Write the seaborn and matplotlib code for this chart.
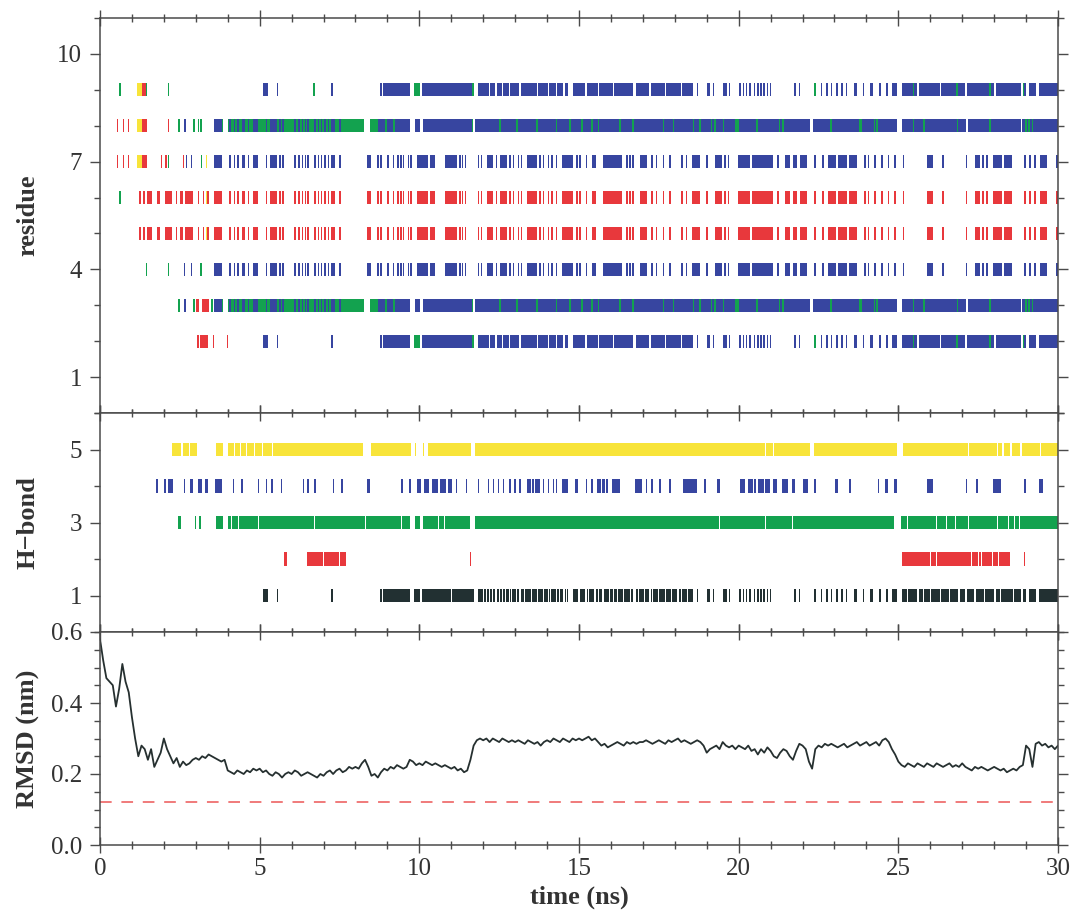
import numpy as np
import matplotlib
matplotlib.use("Agg")
import matplotlib.pyplot as plt
from matplotlib.ticker import MultipleLocator, FixedLocator
import seaborn as sns

# ---------------- colours ----------------
BLUE = "#3745a0"
GREEN = "#13a24f"
RED = "#e8383c"
YELLOW = "#f8e43a"
BLACK = "#223032"

# ---------------- residue panel data (times in ns) ----------------
# pattern A: rows 2 and 9 (and H-bond 1)
pattern_A_blocks = [(5.12, 5.27), (7.24, 7.31), (8.87, 9.71), (10.07, 11.64), (11.85, 12.17),
                    (12.21, 12.38), (12.42, 12.59), (12.63, 12.80), (12.84, 13.13), (13.17, 13.68),
                    (13.72, 14.02), (14.06, 14.28), (14.32, 14.51), (14.55, 14.67), (14.82, 15.20),
                    (15.24, 15.60), (15.64, 16.05), (16.09, 16.70), (16.78, 17.20), (17.24, 17.70),
                    (17.74, 18.20), (18.24, 18.58), (19.00, 19.10), (19.52, 19.63), (23.62, 23.70),
                    (24.12, 24.22), (24.79, 24.95), (25.10, 25.60), (25.65, 26.30), (26.35, 27.10),
                    (27.15, 28.00), (28.05, 28.85), (28.92, 29.00), (29.10, 29.30), (29.40, 30.00)]
pattern_A_stripes = [5.56, 8.80, 18.71, 19.21, 19.71, 20.05, 20.15, 20.25, 20.35, 20.50, 20.60,
                     20.70, 20.80, 20.90, 21.00, 21.77, 21.90, 22.60, 22.76, 22.91, 23.07, 23.23,
                     23.38, 23.91, 24.43, 24.64]
pattern_A_green = [(9.84, 10.02), (11.64, 11.70), (22.37, 22.42), (25.45, 25.50), (26.80, 26.88),
                   (27.85, 27.90), (28.90, 28.95)]

# pattern C: rows 4, 7 (blue) and 5, 6 (red)
pattern_C_blocks = [(3.58, 3.81), (4.44, 4.54), (4.80, 4.96), (5.32, 5.53), (7.23, 7.36), (8.35, 8.49),
                    (9.92, 10.28), (10.34, 10.49), (10.80, 11.17), (12.11, 12.32), (12.53, 12.74),
                    (13.36, 13.68), (14.46, 14.82), (15.40, 15.53), (15.76, 16.34), (16.91, 17.12),
                    (18.53, 18.79), (19.26, 19.47), (19.99, 20.35), (20.42, 21.09), (21.45, 21.61),
                    (21.71, 21.82), (21.92, 22.13), (22.81, 23.05), (23.12, 23.40), (23.46, 23.70),
                    (25.89, 26.08), (27.40, 27.56), (27.98, 28.25), (28.32, 28.55), (29.44, 29.65)]
pattern_C_stripes = [4.07, 4.21, 4.33, 4.65, 5.22, 5.64, 5.74, 6.11, 6.23, 6.34, 6.44, 6.52, 6.73,
                     6.84, 6.94, 7.05, 7.15, 7.52, 8.70, 8.80, 9.01, 9.19, 9.34, 9.43, 9.50, 9.66,
                     9.74, 11.27, 11.35, 11.45, 11.85, 11.95, 12.42, 12.84, 12.95, 13.10, 13.20,
                     13.78, 13.89, 14.04, 14.15, 14.30, 14.93, 15.03, 15.24, 16.50, 16.60, 16.70,
                     17.28, 17.43, 17.64, 17.85, 18.22, 18.37, 19.00, 19.58, 19.68, 21.24, 22.39,
                     22.65, 23.96, 24.06, 24.27, 24.48, 24.69, 24.90, 25.16, 26.39, 27.14, 27.66,
                     27.77, 28.97, 29.13, 29.28, 29.96]
pattern_C_early_red_blocks = [(1.46, 1.62), (1.77, 1.88), (2.04, 2.27), (2.51, 2.61), (2.66, 2.92)]
pattern_C_early_red_stripes = [1.25, 1.38, 2.40, 3.08, 3.24, 3.39]

# pattern B: rows 3 and 8
pattern_B_green_blocks = [(3.62, 3.86), (4.00, 8.28), (8.45, 8.70)]
pattern_B_blue_blocks = [(8.70, 9.71), (9.86, 10.02), (10.13, 11.64), (11.74, 22.24), (22.34, 24.95),
                         (25.10, 27.12), (27.17, 28.83), (28.88, 30.00)]
pattern_B_green_stripes = [8.95, 9.20, 11.67, 12.53, 13.05, 13.68, 14.30, 14.72, 15.09, 15.40, 15.61,
                           16.29, 16.70, 17.64, 17.96, 18.58, 18.79, 19.15, 19.25, 19.52, 19.92,
                           19.97, 20.57, 21.28, 21.38, 22.90, 23.78, 23.83, 24.25, 24.33, 25.47,
                           25.80, 26.85, 27.87, 29.00, 29.10, 29.20]

# early, row-specific events
row9_green = [0.63, 1.46, 2.14, 6.70]
row8_red = [0.55, 0.73, 0.89, 2.14]
row8_green = [2.48, 2.95, 3.08, 3.16]
row8_blue = [2.66]
row7_red = [0.55, 0.73, 0.89, 1.93, 2.06, 2.62]
row7_green = [2.14, 3.18]
row7_blue = [2.71, 2.87]
row6_green = [0.63]
row4_green = [1.46, 2.14, 3.16]
row4_blue = [2.64, 2.87]
row3_green = [2.48, 2.95, 3.50]
row3_blue = [2.66]
row3_red_stripes = [3.03, 3.08]
row3_red_blocks = [(3.18, 3.42)]
row2_red_stripes = [3.06, 3.55, 3.99]
row2_red_blocks = [(3.13, 3.39)]
early_yellow = [(1.15, 1.30)]
early_red = [(1.30, 1.43)]
yellow_mark = [3.34]

# ---------------- H-bond panel data ----------------
hb5_yellow = [(2.26, 2.55), (2.60, 2.78), (2.82, 3.03), (3.62, 3.86), (4.02, 8.25), (8.49, 9.74),
              (9.87, 9.91), (10.11, 10.15), (10.28, 11.61), (11.75, 22.22), (22.36, 24.95),
              (25.14, 28.08), (28.12, 28.25), (28.30, 28.50), (28.55, 28.82), (28.87, 30.00)]
hb4_blue_blocks = [(1.74, 1.81), (2.14, 2.30), (2.82, 2.92), (3.08, 3.18), (3.29, 3.39), (3.60, 3.81),
                   (8.35, 8.46), (9.92, 10.05), (10.15, 10.30), (10.40, 10.60), (10.65, 10.85),
                   (10.90, 11.01), (13.36, 13.78), (14.46, 14.67), (14.88, 14.98), (15.56, 15.92),
                   (16.03, 16.29), (16.76, 16.97), (18.27, 18.69), (19.31, 19.42), (20.04, 20.20),
                   (20.30, 20.55), (20.62, 20.98), (21.09, 21.19), (21.35, 21.56), (21.66, 21.77),
                   (22.03, 22.18), (23.02, 23.12), (24.59, 24.69), (24.85, 24.95), (25.89, 26.08),
                   (27.98, 28.14), (29.39, 29.54)]
hb4_blue_stripes = [2.04, 2.64, 4.18, 4.44, 4.96, 5.22, 5.38, 5.69, 6.37, 6.52, 6.73, 7.31, 7.57,
                    9.45, 9.71, 11.17, 11.48, 11.85, 12.16, 12.32, 12.48, 12.63, 12.84, 13.00,
                    13.15, 13.89, 14.04, 14.20, 14.30, 15.24, 15.40, 17.12, 17.28, 17.54, 17.85,
                    18.95, 22.39, 23.49, 24.38, 27.14, 27.46, 28.19, 28.97]
hb4_gaps = [13.50, 13.62, 15.70, 15.82, 20.45, 20.80]
hb3_green = [(2.45, 2.54), (2.96, 3.00), (3.11, 3.15), (3.62, 3.86), (4.00, 9.71), (9.87, 10.02),
             (10.13, 11.59), (11.75, 24.85), (25.08, 30.00)]
hb3_gaps = [4.12, 4.33, 4.96, 6.73, 8.30, 9.45, 10.60, 10.80, 19.40, 20.85, 21.70, 25.30, 26.20,
            26.50, 26.80, 27.20, 28.10, 28.45, 28.65, 28.80]
hb2_red = [(5.77, 5.85), (6.47, 7.69), (11.58, 11.62), (25.11, 28.50), (28.92, 28.97)]
hb2_gaps = [7.00, 7.50, 26.00, 26.20, 27.30, 27.50, 27.60, 27.95, 28.15]
hb5_gaps = [2.57, 2.80, 4.20, 4.40, 4.60, 4.85, 5.10, 5.40, 20.85, 21.10, 27.20, 29.45]
hb1_gaps = [9.76, 11.00, 12.00, 12.10, 12.30, 12.50, 12.70, 12.90, 13.05, 13.30, 13.50, 13.90,
            14.10, 14.40, 14.60, 14.75, 15.00, 15.30, 15.50, 15.75, 15.95, 16.20, 16.40, 16.60,
            16.85, 17.05, 17.30, 17.50, 17.90, 18.10, 18.40, 25.30, 25.80, 26.00, 26.60, 26.90,
            27.40, 27.70, 28.20, 28.60]

# ---------------- RMSD data ----------------
rmsd_nm = [
    0.58, 0.52, 0.47, 0.46, 0.45, 0.39, 0.44, 0.51, 0.46, 0.43,
    0.36, 0.30, 0.25, 0.28, 0.27, 0.24, 0.27, 0.22, 0.24, 0.26,
    0.30, 0.27, 0.25, 0.23, 0.245, 0.22, 0.235, 0.225, 0.23, 0.24,
    0.245, 0.24, 0.25, 0.245, 0.255, 0.25, 0.245, 0.24, 0.235, 0.24,
    0.21, 0.205, 0.20, 0.21, 0.205, 0.20, 0.21, 0.205, 0.215, 0.21,
    0.215, 0.205, 0.21, 0.20, 0.195, 0.205, 0.20, 0.19, 0.20, 0.205,
    0.20, 0.21, 0.205, 0.195, 0.20, 0.205, 0.20, 0.195, 0.19, 0.20,
    0.195, 0.205, 0.21, 0.20, 0.21, 0.215, 0.205, 0.21, 0.22, 0.215,
    0.22, 0.215, 0.23, 0.24, 0.22, 0.195, 0.20, 0.19, 0.205, 0.215,
    0.21, 0.22, 0.215, 0.225, 0.22, 0.215, 0.22, 0.24, 0.235, 0.225,
    0.23, 0.225, 0.235, 0.23, 0.225, 0.23, 0.225, 0.22, 0.225, 0.22,
    0.215, 0.22, 0.21, 0.215, 0.205, 0.21, 0.24, 0.28, 0.295, 0.30,
    0.295, 0.30, 0.29, 0.30, 0.295, 0.29, 0.30, 0.295, 0.29, 0.295,
    0.29, 0.295, 0.29, 0.285, 0.295, 0.29, 0.285, 0.29, 0.28, 0.29,
    0.295, 0.29, 0.30, 0.295, 0.29, 0.30, 0.295, 0.29, 0.30, 0.295,
    0.30, 0.295, 0.30, 0.305, 0.295, 0.30, 0.29, 0.28, 0.285, 0.275,
    0.28, 0.285, 0.29, 0.285, 0.28, 0.29, 0.285, 0.29, 0.285, 0.29,
    0.29, 0.295, 0.29, 0.285, 0.29, 0.295, 0.29, 0.285, 0.295, 0.29,
    0.295, 0.30, 0.29, 0.295, 0.29, 0.285, 0.29, 0.295, 0.29, 0.28,
    0.26, 0.27, 0.275, 0.28, 0.27, 0.29, 0.28, 0.275, 0.28, 0.27,
    0.28, 0.275, 0.27, 0.28, 0.265, 0.27, 0.255, 0.27, 0.26, 0.275,
    0.265, 0.25, 0.245, 0.26, 0.27, 0.265, 0.25, 0.24, 0.265, 0.285,
    0.28, 0.27, 0.235, 0.215, 0.27, 0.28, 0.275, 0.285, 0.28, 0.285,
    0.28, 0.275, 0.28, 0.285, 0.275, 0.28, 0.285, 0.29, 0.28, 0.285,
    0.29, 0.28, 0.285, 0.29, 0.28, 0.295, 0.30, 0.29, 0.27, 0.255,
    0.235, 0.225, 0.22, 0.23, 0.225, 0.22, 0.23, 0.225, 0.22, 0.23,
    0.225, 0.22, 0.23, 0.225, 0.22, 0.225, 0.23, 0.22, 0.225, 0.22,
    0.23, 0.22, 0.215, 0.21, 0.22, 0.215, 0.22, 0.215, 0.21, 0.215,
    0.22, 0.215, 0.21, 0.215, 0.205, 0.21, 0.215, 0.21, 0.22, 0.225,
    0.28, 0.27, 0.22, 0.285, 0.29, 0.28, 0.285, 0.275, 0.28, 0.27, 0.28,
]
rmsd_time_ns = np.round(np.arange(len(rmsd_nm)) * 0.1, 1)
reference_rmsd = 0.12

residue_ticks = [1, 4, 7, 10]
hbond_ticks = [1, 3, 5]
rmsd_ticks = [0.0, 0.2, 0.4, 0.6]
time_ticks = [0, 5, 10, 15, 20, 25, 30]

# ---------------- style ----------------
sns.set_theme(style="ticks")
plt.rcParams["font.family"] = ["Liberation Serif", "DejaVu Serif"]
plt.rcParams["axes.edgecolor"] = "#4a4a4a"
plt.rcParams["axes.linewidth"] = 1.1
plt.rcParams["xtick.color"] = "#4a4a4a"
plt.rcParams["ytick.color"] = "#4a4a4a"
plt.rcParams["xtick.labelcolor"] = "#333333"
plt.rcParams["ytick.labelcolor"] = "#333333"

fig = plt.figure(figsize=(10.74, 9.17), dpi=100)
L, W = 100 / 1074, 958 / 1074
ax1 = fig.add_axes([L, 1 - 413 / 917, W, 395 / 917])
ax2 = fig.add_axes([L, 1 - 632 / 917, W, 219 / 917])
ax3 = fig.add_axes([L, 1 - 845 / 917, W, 213 / 917])

H = 0.37
SW = 0.05


def bars(ax, y, spans, color, h=H):
    ax.broken_barh([(s, e - s) for s, e in spans], (y - h / 2, h),
                   facecolors=color, edgecolors="none", linewidth=0)


def stripes(ax, y, times, color, h=H, w=SW):
    bars(ax, y, [(t - w / 2, t + w / 2) for t in times], color, h)


# ----- residue rows -----
# row 9
bars(ax1, 9, pattern_A_blocks, BLUE); stripes(ax1, 9, pattern_A_stripes, BLUE)
bars(ax1, 9, pattern_A_green, GREEN); stripes(ax1, 9, row9_green, GREEN)
bars(ax1, 9, early_yellow, YELLOW); bars(ax1, 9, early_red, RED)
# row 2
bars(ax1, 2, pattern_A_blocks, BLUE); stripes(ax1, 2, pattern_A_stripes, BLUE)
bars(ax1, 2, pattern_A_green, GREEN)
bars(ax1, 2, row2_red_blocks, RED); stripes(ax1, 2, row2_red_stripes, RED)
# rows 8 and 3
for r in (8, 3):
    bars(ax1, r, pattern_B_green_blocks, GREEN)
    bars(ax1, r, [b for b in pattern_C_blocks if b[1] < 7.6], BLUE)
    stripes(ax1, r, [t for t in pattern_C_stripes if t < 7.6], BLUE)
    bars(ax1, r, pattern_B_blue_blocks, BLUE)
    stripes(ax1, r, pattern_B_green_stripes, GREEN)
stripes(ax1, 8, row8_red, RED); stripes(ax1, 8, row8_green, GREEN); stripes(ax1, 8, row8_blue, BLUE)
bars(ax1, 8, early_yellow, YELLOW); bars(ax1, 8, [(1.30, 1.46)], RED)
stripes(ax1, 3, row3_green, GREEN); stripes(ax1, 3, row3_blue, BLUE)
stripes(ax1, 3, row3_red_stripes, RED); bars(ax1, 3, row3_red_blocks, RED)
# rows 7 and 4 (blue pattern C)
for r in (7, 4):
    bars(ax1, r, pattern_C_blocks, BLUE); stripes(ax1, r, pattern_C_stripes, BLUE)
stripes(ax1, 7, row7_red, RED); stripes(ax1, 7, row7_green, GREEN); stripes(ax1, 7, row7_blue, BLUE)
bars(ax1, 7, early_yellow, YELLOW); bars(ax1, 7, [(1.30, 1.46)], RED)
stripes(ax1, 7, yellow_mark, YELLOW)
stripes(ax1, 4, row4_green, GREEN); stripes(ax1, 4, row4_blue, BLUE)
# rows 6 and 5 (red pattern C)
for r in (6, 5):
    bars(ax1, r, pattern_C_early_red_blocks, RED); stripes(ax1, r, pattern_C_early_red_stripes, RED)
    bars(ax1, r, pattern_C_blocks, RED); stripes(ax1, r, pattern_C_stripes, RED)
    stripes(ax1, r, yellow_mark, YELLOW)
stripes(ax1, 6, row6_green, GREEN)

# ----- H-bond rows -----
bars(ax2, 5, hb5_yellow, YELLOW); stripes(ax2, 5, hb5_gaps, "white", w=0.03)
bars(ax2, 4, hb4_blue_blocks, BLUE); stripes(ax2, 4, hb4_blue_stripes, BLUE)
stripes(ax2, 4, hb4_gaps, "white", w=0.03)
bars(ax2, 3, hb3_green, GREEN); stripes(ax2, 3, hb3_gaps, "white", w=0.03)
bars(ax2, 2, hb2_red, RED); stripes(ax2, 2, hb2_gaps, "white", w=0.03)
bars(ax2, 1, pattern_A_blocks, BLACK); stripes(ax2, 1, pattern_A_stripes, BLACK)
bars(ax2, 1, pattern_A_green, BLACK); stripes(ax2, 1, hb1_gaps, "white", w=0.035)

# ----- RMSD -----
sns.lineplot(x=rmsd_time_ns, y=rmsd_nm, ax=ax3, color="#263030", linewidth=1.3, estimator=None)
ax3.axhline(reference_rmsd, color="#f07a7a", linewidth=1.4, linestyle=(0, (6, 5)))

# ----- axes formatting -----
for ax in (ax1, ax2, ax3):
    ax.set_xlim(0, 30)
    ax.xaxis.set_major_locator(FixedLocator(time_ticks))
    ax.xaxis.set_minor_locator(MultipleLocator(1))
    ax.tick_params(axis="x", which="both", direction="inout", top=True, bottom=True,
                   labelbottom=False, width=1.0)
    ax.tick_params(axis="x", which="major", length=11)
    ax.tick_params(axis="x", which="minor", length=6)
    ax.tick_params(axis="y", which="both", direction="out", left=True, right=True, width=1.0)
    ax.tick_params(axis="y", which="major", length=7, pad=6, labelsize=18)
    ax.tick_params(axis="y", which="minor", length=4)
    for s in ax.spines.values():
        s.set_visible(True)

ax1.set_ylim(0, 11)
ax1.yaxis.set_major_locator(FixedLocator(residue_ticks))
ax1.yaxis.set_minor_locator(MultipleLocator(1))
ax2.set_ylim(0, 6)
ax2.yaxis.set_major_locator(FixedLocator(hbond_ticks))
ax2.yaxis.set_minor_locator(MultipleLocator(1))
ax3.set_ylim(0, 0.6)
ax3.yaxis.set_major_locator(FixedLocator(rmsd_ticks))
ax3.yaxis.set_minor_locator(MultipleLocator(0.05))
ax3.set_yticklabels(["0.0", "0.2", "0.4", "0.6"])
ax3.tick_params(axis="x", labelbottom=True, labelsize=18, pad=4)

lab = dict(fontsize=19, fontweight="bold", color="#333333")
ax1.set_ylabel("residue", **lab)
ax2.set_ylabel("H\u2212bond", **lab)
ax3.set_ylabel("RMSD (nm)", **lab)
for ax in (ax1, ax2, ax3):
    ax.yaxis.set_label_coords(-0.063, 0.5)
ax3.set_xlabel("time (ns)", fontsize=19, fontweight="bold", color="#333333", labelpad=4)

fig.savefig("out.png", dpi=100)
